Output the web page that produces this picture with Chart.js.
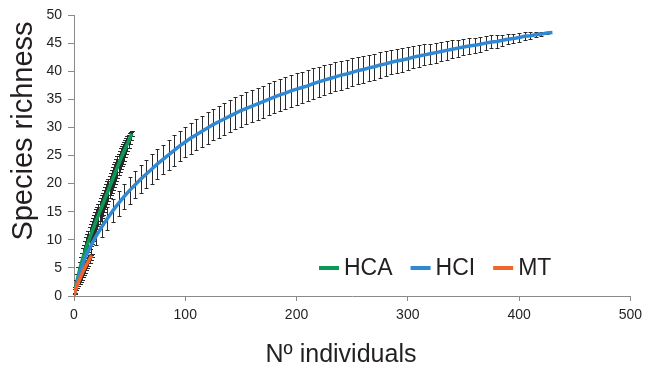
<!DOCTYPE html>
<html>
<head>
<meta charset="utf-8">
<script src="https://cdn.jsdelivr.net/npm/chart.js@4.4.1/dist/chart.umd.min.js"></script>
<style>
  body { margin: 0; background: #fff; }
  canvas { display: block; }
</style>
</head>
<body>
<canvas id="myChart" width="648" height="373"></canvas>
<script>
// 데이터: HCA
const hcaX = [0, 1, 2, 3, 4, 5, 6, 7, 8, 9, 10, 11, 12, 13, 14, 15, 16, 17, 18, 19, 20,
  21, 22, 23, 24, 25, 26, 27, 28, 29, 30, 31, 32, 33, 34, 35, 36, 37, 38, 39, 40,
  41, 42, 43, 44, 45, 46, 47, 48, 49, 50, 51, 52];
const hcaY = [0, 1.0, 1.95, 2.9, 3.8, 4.6, 5.4, 6.1, 6.8, 7.4, 8.0, 8.6, 9.2, 9.7, 10.25, 10.8,
  11.3, 11.85, 12.35, 12.9, 13.4, 13.9, 14.4, 14.9, 15.4, 15.9, 16.4, 16.9, 17.4, 17.9, 18.4,
  18.9, 19.4, 19.9, 20.4, 20.9, 21.4, 21.9, 22.4, 22.9, 23.4, 23.9, 24.4, 24.85, 25.3, 25.75,
  26.2, 26.65, 27.1, 27.5, 28.0, 28.45, 28.9];
const hcaErr = [0, 0.6, 0.9, 1.1, 1.3, 1.4, 1.5, 1.6, 1.7, 1.75, 1.8, 1.85, 1.9, 1.9, 1.95, 1.95,
  2.0, 2.0, 2.0, 2.0, 2.0, 2.0, 2.0, 2.0, 2.0, 2.0, 2.0, 2.0, 2.0, 2.0, 2.0, 2.0, 2.0, 2.0, 2.0,
  2.0, 2.0, 2.0, 2.0, 1.95, 1.95, 1.9, 1.85, 1.8, 1.75, 1.65, 1.55, 1.45, 1.3, 1.15, 0.95, 0.7, 0.4];

// 데이터: HCI
const hciX = [0, 5, 10, 15, 20, 25, 30, 35, 40, 45, 50, 55, 60, 65, 70, 75, 80, 85, 90, 95, 100,
  105, 110, 115, 120, 125, 130, 135, 140, 145, 150, 155, 160, 165, 170, 175, 180, 185, 190, 195, 200,
  205, 210, 215, 220, 225, 230, 235, 240, 245, 250, 255, 260, 265, 270, 275, 280, 285, 290, 295, 300,
  305, 310, 315, 320, 325, 330, 335, 340, 345, 350, 355, 360, 365, 370, 375, 380, 385, 390, 395, 400,
  405, 410, 415, 420, 425, 430];
const hciY = [0, 4.0, 6.8, 8.9, 10.7, 12.3, 13.8, 15.2, 16.5, 17.7, 18.8, 19.8, 20.8, 21.7, 22.6,
  23.5, 24.3, 25.1, 25.9, 26.7, 27.4,
  28.1, 28.7, 29.3, 29.9, 30.5, 31.0, 31.5, 32.0, 32.5, 33.0,
  33.4, 33.8, 34.2, 34.6, 35.0, 35.4, 35.8, 36.1, 36.5, 36.8,
  37.1, 37.4, 37.8, 38.1, 38.4, 38.7, 39.0, 39.3, 39.5, 39.8,
  40.1, 40.3, 40.6, 40.8, 41.1, 41.3, 41.6, 41.8, 42.0, 42.2,
  42.5, 42.7, 42.9, 43.1, 43.3, 43.5, 43.7, 43.9, 44.1, 44.3,
  44.5, 44.6, 44.8, 45.0, 45.2, 45.3, 45.5, 45.7, 45.8, 46.0,
  46.2, 46.3, 46.5, 46.6, 46.8, 46.9];
const hciErr = [0, 0.9, 1.3, 1.5, 1.7, 1.85, 2.0, 2.1, 2.2, 2.3, 2.4, 2.45, 2.5, 2.55, 2.6, 2.62,
  2.65, 2.68, 2.7, 2.72, 2.75,
  2.77, 2.79, 2.8, 2.81, 2.82, 2.83, 2.84, 2.85, 2.85, 2.85,
  2.85, 2.85, 2.84, 2.84, 2.83, 2.83, 2.82, 2.81, 2.8, 2.8,
  2.78, 2.76, 2.74, 2.71, 2.68, 2.65, 2.61, 2.57, 2.53, 2.49,
  2.45, 2.41, 2.37, 2.32, 2.27, 2.22, 2.17, 2.12, 2.07, 2.02,
  1.97, 1.92, 1.87, 1.82, 1.77, 1.72, 1.66, 1.6, 1.54, 1.48,
  1.42, 1.36, 1.3, 1.23, 1.16, 1.09, 1.02, 0.94, 0.86, 0.78,
  0.72, 0.62, 0.5, 0.38, 0.22, 0];

// 데이터: MT
const mtX = [0, 1, 2, 3, 4, 5, 6, 7, 8, 9, 10, 11, 12, 13, 14, 15, 16];
const mtY = [0, 0.9, 1.5, 2.0, 2.5, 2.95, 3.4, 3.85, 4.3, 4.7, 5.1, 5.5, 5.85, 6.2, 6.55, 6.9, 7.2];
const mtErr = [0, 0.3, 0.5, 0.65, 0.75, 0.85, 0.9, 0.95, 1.0, 1.0, 1.0, 0.95, 0.9, 0.8, 0.65, 0.45, 0.2];

// 축 눈금
const xTicks = [0, 100, 200, 300, 400, 500];
const yTicks = [0, 5, 10, 15, 20, 25, 30, 35, 40, 45, 50];

const FONT = '"Liberation Sans", Arial, sans-serif';
const TEXT = '#231f20';

function pts(xs, ys) {
  return xs.map((v, i) => ({ x: v, y: ys[i] }));
}

// 오차 막대
const errorBars = {
  id: 'errorBars',
  beforeDatasetsDraw(chart) {
    const { ctx, scales: { x, y } } = chart;
    ctx.save();
    ctx.strokeStyle = '#2a2a2a';
    ctx.lineWidth = 1;
    chart.data.datasets.forEach(ds => {
      const cap = ds.capHalf;
      ds.data.forEach((p, i) => {
        const e = ds.errors[i];
        if (!e) return;
        const px = Math.round(x.getPixelForValue(p.x)) + 0.5;
        const top = Math.round(y.getPixelForValue(p.y + e)) + 0.5;
        const bot = Math.round(y.getPixelForValue(p.y - e)) + 0.5;
        ctx.beginPath();
        ctx.moveTo(px, top); ctx.lineTo(px, bot);
        ctx.moveTo(px - cap, top); ctx.lineTo(px + cap, top);
        ctx.moveTo(px - cap, bot); ctx.lineTo(px + cap, bot);
        ctx.stroke();
      });
    });
    ctx.restore();
  }
};

// 축 제목 + 범례
const extras = {
  id: 'extras',
  afterDraw(chart) {
    const { ctx } = chart;
    ctx.save();
    ctx.fillStyle = TEXT;
    ctx.textAlign = 'center';
    ctx.textBaseline = 'middle';
    ctx.font = '25px ' + FONT;
    ctx.fillText('Nº individuals', 341, 355);
    ctx.translate(24, 131);
    ctx.rotate(-Math.PI / 2);
    ctx.font = '29px ' + FONT;
    ctx.fillText('Species richness', 0, 0);
    ctx.restore();

    ctx.save();
    ctx.font = '23px ' + FONT;
    ctx.textBaseline = 'middle';
    let lx = 319;
    const ly = 268;
    chart.data.datasets.forEach(ds => {
      ctx.strokeStyle = ds.borderColor;
      ctx.lineWidth = 4;
      ctx.beginPath();
      ctx.moveTo(lx, ly); ctx.lineTo(lx + 20, ly);
      ctx.stroke();
      ctx.fillStyle = TEXT;
      ctx.fillText(ds.label, lx + 25, ly + 1);
      lx += 25 + ctx.measureText(ds.label).width + 18;
    });
    ctx.restore();
  }
};

const data = {
  datasets: [
    { label: 'HCA', data: pts(hcaX, hcaY), errors: hcaErr, capHalf: 2.5,
      borderColor: '#0b9a56', borderWidth: 3.5, pointRadius: 0, order: 3 },
    { label: 'HCI', data: pts(hciX, hciY), errors: hciErr, capHalf: 2,
      borderColor: '#3189d4', borderWidth: 3.5, pointRadius: 0, order: 2 },
    { label: 'MT', data: pts(mtX, mtY), errors: mtErr, capHalf: 2.5,
      borderColor: '#f0652a', borderWidth: 3.5, pointRadius: 0, order: 1 },
  ],
};

const options = {
  responsive: false,
  animation: false,
  devicePixelRatio: 1,
  layout: { padding: { left: 0, top: 15, right: 15, bottom: 0 } },
  plugins: { legend: { display: false }, tooltip: { enabled: false } },
  scales: {
    x: {
      type: 'linear', min: 0, max: 500,
      afterBuildTicks: s => { s.ticks = xTicks.map(v => ({ value: v })); },
      afterFit: s => { s.height = 77; },
      grid: { drawOnChartArea: false, color: '#8a8a8a', tickLength: 5 },
      border: { color: '#8a8a8a' },
      ticks: { color: TEXT, font: { family: FONT, size: 14 }, padding: 6, maxRotation: 0 },
    },
    y: {
      min: 0, max: 50,
      afterBuildTicks: s => { s.ticks = yTicks.map(v => ({ value: v })); },
      afterFit: s => { s.width = 74; },
      grid: { drawOnChartArea: false, color: '#8a8a8a', tickLength: 6 },
      border: { color: '#8a8a8a' },
      ticks: { color: TEXT, font: { family: FONT, size: 14 }, padding: 6 },
    },
  },
};

new Chart(document.getElementById('myChart').getContext('2d'), {
  type: 'line',
  data: data,
  options: options,
  plugins: [errorBars, extras],
});
</script>
</body>
</html>
